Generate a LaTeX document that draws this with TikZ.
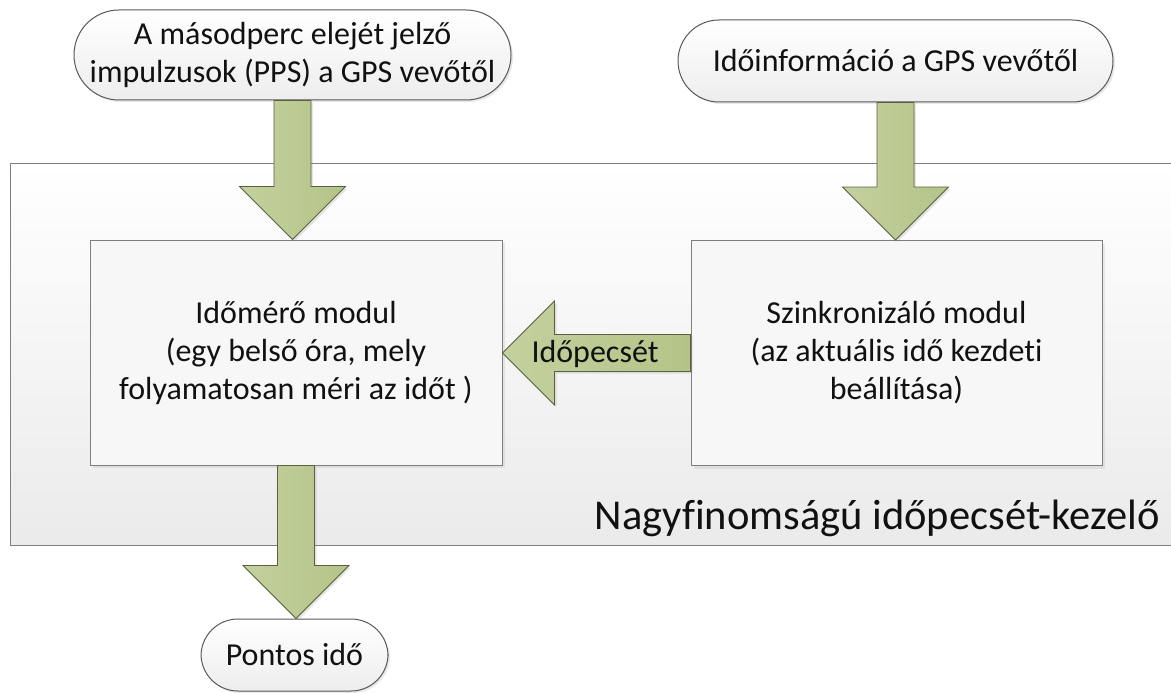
\documentclass[tikz,border=0pt]{standalone}
\usepackage{fontspec}
\setmainfont{Carlito}[Ligatures={NoCommon}]
\usetikzlibrary{calc,shadows}

\definecolor{arrowlight}{HTML}{C4D09E}
\definecolor{arrowdark}{HTML}{B4C488}
\definecolor{arrowline}{HTML}{5A6040}
\definecolor{boxline}{HTML}{7F7F7F}
\definecolor{termline}{HTML}{595959}
\definecolor{inktext}{HTML}{111111}

\tikzset{
  txt/.style={font=\fontsize{32}{38}\selectfont, text=inktext, align=center},
  terminal/.style={txt, draw=termline, line width=1pt, top color=white, bottom color=black!7,
    drop shadow={shadow xshift=2pt, shadow yshift=-2pt, opacity=0.18}},
  modbox/.style={txt, draw=boxline, line width=1pt, fill=black!3,
    drop shadow={shadow xshift=3pt, shadow yshift=-3pt, opacity=0.15}},
  frame/.style={draw=boxline, line width=1pt, top color=white, bottom color=black!8},
  blockarrow/.style={draw=arrowline, line width=0.8pt, left color=arrowlight, right color=arrowdark,
    drop shadow={shadow xshift=2pt, shadow yshift=-2pt, opacity=0.2}},
}

% block arrow pointing down from the bottom of #1 to the top of #2
\newcommand{\blockdown}[2]{%
  \path[blockarrow] let \p1=(#1.south), \p2=(#2.north) in
    (\x1-18.5pt,\y1) -- (\x1-18.5pt,\y2+53pt) -- (\x1-53pt,\y2+53pt) -- (\x1,\y2)
    -- (\x1+53pt,\y2+53pt) -- (\x1+18.5pt,\y2+53pt) -- (\x1+18.5pt,\y1) -- cycle;}

% block arrow pointing left from the west side of #1 to the east side of #2
\newcommand{\blockleft}[2]{%
  \path[blockarrow] let \p1=(#1.west), \p2=(#2.east) in
    (\x1,\y1+18.5pt) -- (\x2+52pt,\y1+18.5pt) -- (\x2+52pt,\y1+52pt) -- (\x2,\y1)
    -- (\x2+52pt,\y1-52pt) -- (\x2+52pt,\y1-18.5pt) -- (\x1,\y1-18.5pt) -- cycle;}

\begin{document}
\begin{tikzpicture}[x=1pt,y=-1pt]
\useasboundingbox (0,0) rectangle (1171,693);

% enclosing unit
\node[frame, minimum width=1185pt, minimum height=382pt, inner sep=0pt] (unit) at (602.5,354) {};
\node[font=\fontsize{42.5}{48}\selectfont, text=inktext, anchor=base east, inner sep=0pt] (unitlabel) at (1160,529) {Nagyfinomságú időpecsét-kezelő};

% modules
\node[modbox, minimum width=412pt, minimum height=225pt, inner sep=0pt] (meter) at (296,352.5)
  {Időmérő modul\\(egy belső óra, mely\\folyamatosan méri az időt )};
\node[modbox, minimum width=411pt, minimum height=225pt, inner sep=0pt] (sync) at (896.5,353)
  {Szinkronizáló modul\\(az aktuális idő kezdeti\\beállítása)};

% sources and result
\node[terminal, rounded corners=45pt, minimum width=437pt, minimum height=90pt, inner sep=0pt] (pps) at (292.5,55)
  {A másodperc elejét jelző\\impulzusok (PPS) a GPS vevőtől};
\node[terminal, rounded corners=41pt, minimum width=435pt, minimum height=82pt, inner sep=0pt] (gpsinfo) at (895.5,61)
  {Időinformáció a GPS vevőtől};
\node[terminal, rounded corners=37pt, minimum width=187pt, minimum height=72pt, inner sep=0pt] (exact) at (294.5,655)
  {Pontos idő};

% flows
\blockdown{pps}{meter}
\blockdown{gpsinfo}{sync}
\blockdown{meter}{exact}
\blockleft{sync}{meter}
\node[txt, inner sep=0pt] (stamp) at (595,354) {Időpecsét};

\end{tikzpicture}
\end{document}
